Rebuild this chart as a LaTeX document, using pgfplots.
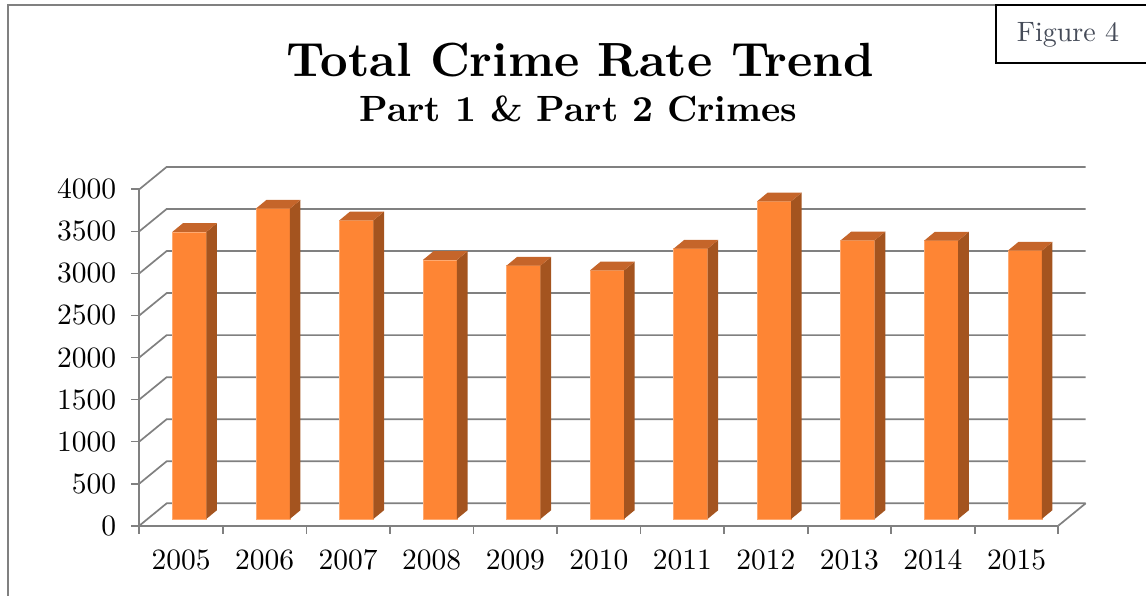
\documentclass[border=0pt]{standalone}
\usepackage{fontspec}
\setmainfont{lmroman10-regular.otf}[BoldFont=lmroman10-bold.otf]
\usepackage{pgfplots}
\usepackage{pgfplotstable}
\pgfplotsset{compat=1.18}
\definecolor{barfront}{HTML}{FE8534}
\definecolor{barside}{HTML}{A4541F}
\definecolor{bartop}{HTML}{C5652A}
\definecolor{gridgray}{HTML}{808080}
\definecolor{figtext}{HTML}{454B58}

\pgfplotstableread{
i val
0 3413
1 3690
2 3551
3 3080
4 3012
5 2956
6 3214
7 3777
8 3313
9 3310
10 3190
}\crimedata

\begin{document}
\begin{tikzpicture}
\useasboundingbox (0pt,0pt) rectangle (1146pt,595pt);
\clip (0pt,0pt) rectangle (1146pt,595pt);
\draw[gridgray, line width=2pt] (8pt,-5pt) -- (8pt,590pt) -- (996pt,590pt);
\draw[black, line width=2pt] (996pt,590pt) rectangle (1160pt,532pt);
\node[figtext, font=\fontsize{28}{32}\selectfont] at (1068pt,560pt) {Figure 4};
\node[anchor=base, font=\bfseries\fontsize{48}{56}\selectfont] at (580.5pt,518pt) {Total Crime Rate Trend};
\node[anchor=base, font=\bfseries\fontsize{36.5}{42}\selectfont] at (578.5pt,473pt) {Part 1 \& Part 2 Crimes};
\begin{axis}[
  at={(139.3pt,69.3pt)}, anchor=south west,
  scale only axis, width=919pt, height=336.4pt,
  xmin=-0.5, xmax=10.5, ymin=0, ymax=4000,
  clip=false,
  axis x line*=bottom, axis y line*=left,
  axis line style={gridgray, line width=1.7pt},
  tick style={gridgray, line width=1.7pt},
  tick align=outside,
  major tick length=8pt,
  xtick={-0.5,0.5,...,10.5}, xticklabels={},
  extra x ticks={0,1,...,10},
  extra x tick labels={2005,2006,2007,2008,2009,2010,2011,2012,2013,2014,2015},
  extra x tick style={major tick length=0pt, tick style={draw=none}},
  ytick={0,500,...,4000},
  scaled y ticks=false,
  /pgf/number format/assume math mode=true,
  /pgf/number format/1000 sep={},
  tick label style={font=\fontsize{29.5}{34}\selectfont},
  yticklabel style={anchor=east, inner sep=0pt, xshift=-15pt},
  xticklabel style={anchor=base, inner sep=0pt, yshift=-44pt},
]
% 3D walls: left diagonals + back wall gridlines
\pgfplotsinvokeforeach{0,...,8}{
  \pgfmathsetmacro\yf{500*#1}
  \pgfmathsetmacro\yy{500*#1+266.3}
  \edef\temp{\noexpand\addplot[gridgray, line width=1.7pt] coordinates {(-0.5,\yf) (-0.172,\yy) (10.828,\yy)};}
  \temp
}
\addplot[gridgray, line width=1.7pt] coordinates {(10.5,0) (10.828,266.3)};
% bars
\pgfplotsinvokeforeach{0,...,10}{
  \pgfplotstablegetelem{#1}{val}\of\crimedata
  \pgfmathsetmacro\yt{\pgfplotsretval+80}
  \pgfmathsetmacro\ytb{\pgfplotsretval+184}
  \pgfmathsetmacro\xl{#1-0.105}
  \pgfmathsetmacro\xr{#1+0.302}
  \pgfmathsetmacro\xrb{#1+0.429}
  \pgfmathsetmacro\xlb{#1+0.022}
  \edef\temp{%
    \noexpand\addplot[fill=barfront, draw=barfront!70!white, line width=0.4pt] coordinates {(\xl,80) (\xr,80) (\xr,\yt) (\xl,\yt)} --cycle;
    \noexpand\addplot[fill=barside, draw=none] coordinates {(\xr,80) (\xrb,184) (\xrb,\ytb) (\xr,\yt)} --cycle;
    \noexpand\addplot[fill=bartop, draw=none] coordinates {(\xl,\yt) (\xr,\yt) (\xrb,\ytb) (\xlb,\ytb)} --cycle;
  }
  \temp
}
\end{axis}
\end{tikzpicture}
\end{document}
